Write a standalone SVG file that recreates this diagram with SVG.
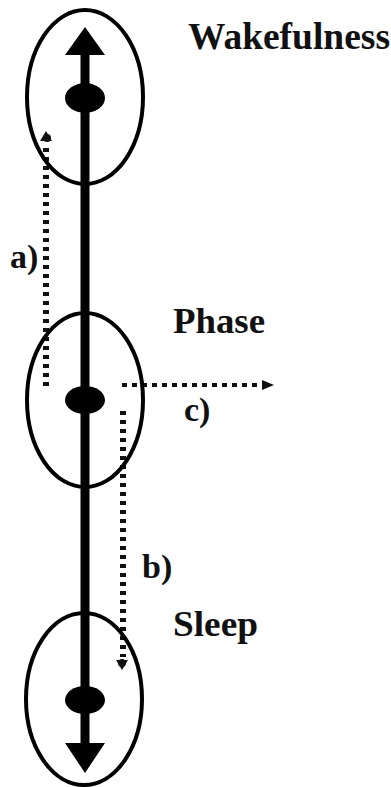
<svg xmlns="http://www.w3.org/2000/svg" width="391" height="787" viewBox="0 0 391 787">
<style>
.ell{fill:none;stroke:#000;stroke-width:4}
.dot{fill:#000}
.lbl{font-family:"Liberation Serif","Times New Roman",serif;font-weight:bold;fill:#111}
.axis{stroke:#000;stroke-width:9;fill:none}
.dots{stroke:#111;stroke-width:6;stroke-dasharray:4 5;fill:none}
.doth{stroke:#111;stroke-width:4;stroke-dasharray:5 5;fill:none}
</style>
<rect width="391" height="787" fill="#fff"/>
<g id="connectors">
  <line class="axis" x1="85" y1="52" x2="85" y2="746"/>
  <polygon points="85,27 65,55 105,55" fill="#000"/>
  <polygon points="85,773 65,743 105,743" fill="#000"/>
  <line class="dots" x1="46" y1="386" x2="46" y2="143"/>
  <polygon points="46,131 40,141 52,141" fill="#111"/>
  <circle cx="47" cy="138" r="4" fill="#111"/>
  <line class="dots" x1="123" y1="411" x2="123" y2="657"/>
  <polygon points="122,670 116,660 128,660" fill="#111"/>
  <circle cx="122" cy="663" r="4" fill="#111"/>
  <line class="doth" x1="122" y1="385" x2="262" y2="385"/>
  <polygon points="274,385 262,380 262,390" fill="#111"/>
  <text class="lbl" x="10" y="268" font-size="34">a)</text>
  <text class="lbl" x="184" y="421" font-size="34">c)</text>
  <text class="lbl" x="142" y="578" font-size="34">b)</text>
</g>
<g id="wakefulness">
  <ellipse class="ell" cx="85" cy="97" rx="58" ry="87"/>
  <ellipse class="dot" cx="85" cy="98" rx="20" ry="15"/>
  <text class="lbl" x="188" y="49" font-size="37" textLength="202" lengthAdjust="spacingAndGlyphs">Wakefulness</text>
</g>
<g id="phase">
  <ellipse class="ell" cx="85" cy="400" rx="58" ry="87"/>
  <ellipse class="dot" cx="85" cy="400" rx="20" ry="14"/>
  <text class="lbl" x="173" y="333" font-size="36" textLength="92" lengthAdjust="spacingAndGlyphs">Phase</text>
</g>
<g id="sleep">
  <ellipse class="ell" cx="84" cy="699" rx="58" ry="86"/>
  <ellipse class="dot" cx="85" cy="700" rx="20" ry="14"/>
  <text class="lbl" x="173" y="636" font-size="36" textLength="85" lengthAdjust="spacingAndGlyphs">Sleep</text>
</g>
</svg>
